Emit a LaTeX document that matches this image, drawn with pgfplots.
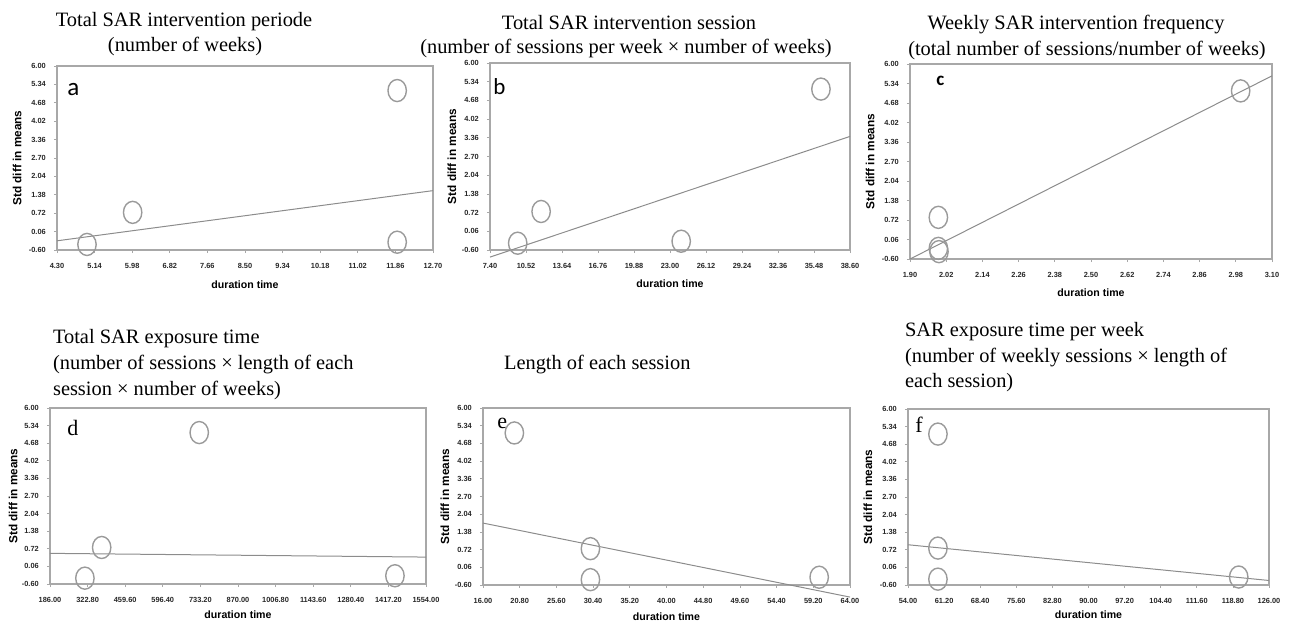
\documentclass[border=0pt]{standalone}
\usepackage{pgfplots}
\pgfplotsset{compat=1.18}
\usepackage{fontspec}
\setmainfont{Liberation Serif}
\newfontfamily\arial{Liberation Sans}
\newfontfamily\calibri{Carlito}

\definecolor{framegray}{HTML}{A8A8A8}
\definecolor{markgray}{HTML}{9A9A9A}
\definecolor{linegray}{HTML}{8C8C8C}

\tikzset{ttl/.style={font=\fontsize{10.2}{12}\selectfont}}

\pgfplotsset{
  panel/.style={
    scale only axis,
    anchor=south west,
    axis line style={framegray, line width=0.6pt},
    tick style={framegray, line width=0.4pt},
    tick align=outside,
    major tick length=1.6pt,
    tick pos=left,
    ymin=-0.60, ymax=6.00,
    ytick={-0.60,0.06,0.72,1.38,2.04,2.70,3.36,4.02,4.68,5.34,6.00},
    ticklabel style={font=\arial\bfseries\fontsize{3.7}{4}\selectfont, text=black!85},
    xticklabel style={anchor=north, text height=2.7pt, text depth=0pt, yshift=-1.6pt},
    yticklabel style={xshift=-0.5pt},
    /pgf/number format/.cd, fixed, fixed zerofill, precision=2, 1000 sep={}, assume math mode=true,
    /pgfplots/.cd,
    xlabel={duration time},
    ylabel={Std diff in means},
    xlabel style={font=\arial\bfseries\fontsize{5.3}{6}\selectfont, at={(axis description cs:0.5,0)}, anchor=center},
    ylabel style={font=\arial\bfseries\fontsize{5.9}{6}\selectfont, anchor=center},
    clip=false,
  },
  circ/.style={only marks, mark=o, mark size=4.6pt, mark options={draw=markgray, line width=0.7pt, yscale=1.2}},
  reg/.style={linegray, line width=0.5pt, no marks},
}

\begin{document}
\begin{tikzpicture}
\useasboundingbox (0,0) rectangle (644.5pt,-311.5pt);

% ---------- titles ----------
\node[anchor=base, ttl] at (92pt,-13pt) {Total SAR intervention periode};
\node[anchor=base, ttl] at (92.5pt,-25.5pt) {(number of weeks)};
\node[anchor=base, ttl] at (314.5pt,-14.5pt) {Total SAR intervention session};
\node[anchor=base, ttl] at (313pt,-26.5pt) {(number of sessions per week × number of weeks)};
\node[anchor=base, ttl] at (538pt,-14.5pt) {Weekly SAR intervention frequency};
\node[anchor=base, ttl] at (543.5pt,-27.5pt) {(total number of sessions/number of weeks)};
\node[anchor=base west, ttl] at (23pt,-171.5pt) {Total SAR exposure time};
\node[anchor=base west, ttl] at (23pt,-184.5pt) {(number of sessions × length of each};
\node[anchor=base west, ttl] at (23pt,-197.5pt) {session × number of weeks)};
\node[anchor=base west, ttl] at (248.5pt,-184.5pt) {Length of each session};
\node[anchor=base west, ttl] at (449pt,-168pt) {SAR exposure time per week};
\node[anchor=base west, ttl] at (449pt,-181pt) {(number of weekly sessions × length of};
\node[anchor=base west, ttl] at (449pt,-193.5pt) {each session)};

% ---------- a ----------
\begin{axis}[panel, at={(28.5pt,-125pt)}, width=188pt, height=92pt,
  xmin=4.30, xmax=12.70,
  xtick={4.30,5.14,5.98,6.82,7.66,8.50,9.34,10.18,11.02,11.86,12.70},
  xlabel style={yshift=-17.5pt},
  ylabel style={at={(axis description cs:-0.106,0.5)}}]
\addplot[circ] coordinates {(4.97,-0.40) (5.99,0.75) (11.90,5.12) (11.90,-0.32)};
\addplot[reg] coordinates {(4.30,-0.27) (12.70,1.53)};
\node[anchor=base west, font=\calibri\fontsize{12.5}{13}\selectfont, inner sep=0pt] at (axis description cs:0,1) [xshift=5pt, yshift=-14.5pt] {a};
\end{axis}

% ---------- b ----------
\begin{axis}[panel, at={(245pt,-125pt)}, width=180pt, height=93.5pt,
  xmin=7.40, xmax=38.60,
  xtick={7.40,10.52,13.64,16.76,19.88,23.00,26.12,29.24,32.36,35.48,38.60},
  xlabel style={yshift=-17pt},
  ylabel style={at={(axis description cs:-0.106,0.5)}}]
\addplot[circ] coordinates {(9.80,-0.36) (11.83,0.76) (23.97,-0.29) (36.08,5.08)};
\addplot[reg] coordinates {(7.40,-0.85) (38.60,3.41)};
\node[anchor=base west, font=\calibri\fontsize{11.5}{12}\selectfont, inner sep=0pt] at (axis description cs:0,1) [xshift=1.5pt, yshift=-15.5pt] {b};
\end{axis}

% ---------- c ----------
\begin{axis}[panel, at={(455pt,-129.5pt)}, width=181pt, height=97.5pt,
  xmin=1.90, xmax=3.10,
  xtick={1.90,2.02,2.14,2.26,2.38,2.50,2.62,2.74,2.86,2.98,3.10},
  xlabel style={yshift=-17pt},
  ylabel style={at={(axis description cs:-0.110,0.5)}}]
\addplot[circ] coordinates {(1.994,0.81) (1.994,-0.24) (1.996,-0.35) (2.996,5.09)};
\addplot[reg] coordinates {(1.90,-0.60) (3.10,5.60)};
\node[anchor=base west, font=\calibri\bfseries\fontsize{9.5}{10}\selectfont, inner sep=0pt] at (axis description cs:0,1) [xshift=13pt, yshift=-10.5pt] {c};
\end{axis}

% ---------- d ----------
\begin{axis}[panel, at={(25pt,-292pt)}, width=188pt, height=88pt,
  xmin=186.00, xmax=1554.00,
  xtick={186.00,322.80,459.60,596.40,733.20,870.00,1006.80,1143.60,1280.40,1417.20,1554.00},
  xlabel style={yshift=-15.5pt},
  ylabel style={at={(axis description cs:-0.098,0.5)}}]
\addplot[circ] coordinates {(313,-0.38) (374,0.77) (729,5.08) (1441,-0.29)};
\addplot[reg] coordinates {(186,0.55) (1554,0.41)};
\node[anchor=base west, font=\fontsize{11}{12}\selectfont, inner sep=0pt] at (axis description cs:0,1) [xshift=8.5pt, yshift=-13.5pt] {d};
\end{axis}

% ---------- e ----------
\begin{axis}[panel, at={(241.5pt,-292.5pt)}, width=183.5pt, height=88.5pt,
  xmin=16.00, xmax=64.00,
  xtick={16.00,20.80,25.60,30.40,35.20,40.00,44.80,49.60,54.40,59.20,64.00},
  xlabel style={yshift=-16pt},
  ylabel style={at={(axis description cs:-0.104,0.5)}}]
\addplot[circ] coordinates {(20.10,5.07) (30.05,0.755) (30.05,-0.40) (59.97,-0.31)};
\addplot[reg] coordinates {(16.00,1.71) (64.00,-1.05)};
\node[anchor=base west, font=\fontsize{11}{12}\selectfont, inner sep=0pt] at (axis description cs:0,1) [xshift=7pt, yshift=-10pt] {e};
\end{axis}

% ---------- f ----------
\begin{axis}[panel, at={(454pt,-292.5pt)}, width=180.5pt, height=88pt,
  xmin=54.00, xmax=126.00,
  xtick={54.00,61.20,68.40,75.60,82.80,90.00,97.20,104.40,111.60,118.80,126.00},
  xlabel style={yshift=-15pt},
  ylabel style={at={(axis description cs:-0.111,0.5)}}]
\addplot[circ] coordinates {(59.97,5.06) (59.97,0.785) (59.97,-0.38) (119.96,-0.30)};
\addplot[reg] coordinates {(54.00,0.91) (126.00,-0.43)};
\node[anchor=base west, font=\fontsize{11}{12}\selectfont, inner sep=0pt] at (axis description cs:0,1) [xshift=3.5pt, yshift=-11.5pt] {f};
\end{axis}
\end{tikzpicture}
\end{document}
